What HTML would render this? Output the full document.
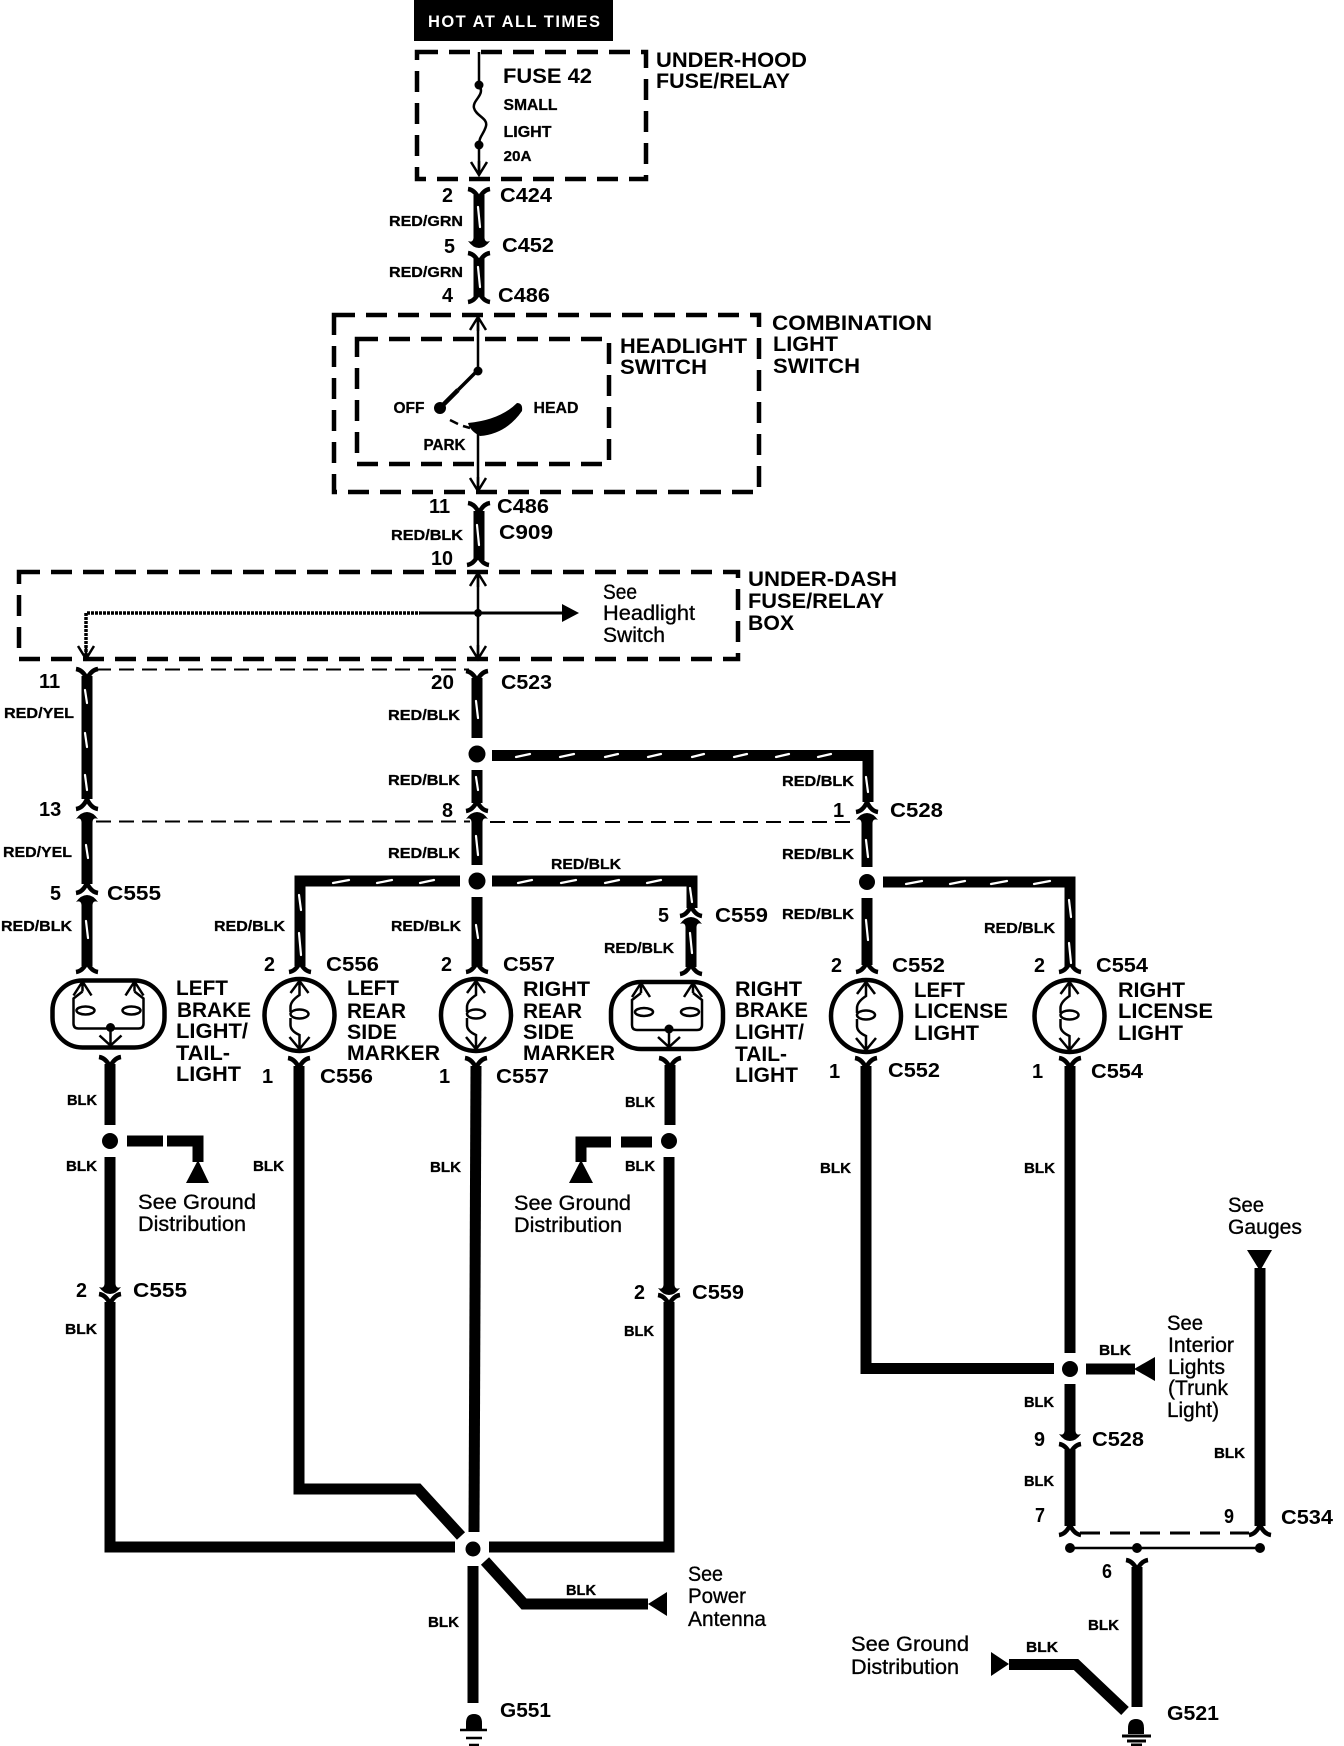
<!DOCTYPE html>
<html><head><meta charset="utf-8"><title>Wiring diagram</title>
<style>
html,body{margin:0;padding:0;background:#fff;width:1344px;height:1746px;overflow:hidden}
svg{display:block}
text{fill:#000;font-family:"Liberation Sans",sans-serif}
.a{font-weight:bold;font-size:21px}
.c{font-weight:bold;font-size:20px}
.s{font-weight:bold;font-size:16px;stroke:#000;stroke-width:.3}
.w{font-weight:bold;font-size:15px;stroke:#000;stroke-width:.3}
.r{font-size:21.5px;stroke:#000;stroke-width:.35}
.t{font-weight:bold;font-size:16.500px;fill:#fff}
</style></head><body>
<svg xmlns="http://www.w3.org/2000/svg" width="1344" height="1746" viewBox="0 0 1344 1746">
<defs>
<path id="Y" d="M-11 1Q-4 2 0 11Q4 2 11 1" fill="none" stroke="#000" stroke-width="4.5"/>
<path id="A" d="M-11 -1Q-4 -2 0 -11Q4 -2 11 -1" fill="none" stroke="#000" stroke-width="4.5"/>
<path id="U" d="M-11 7Q-6 0 0 0Q6 0 11 7Q6 5 5.5 10L-5.5 10Q-6 5 -11 7Z"/>
<path id="D" d="M-11 -7Q-6 0 0 0Q6 0 11 -7Q6 -5 5.5 -10L-5.5 -10Q-6 -5 -11 -7Z"/>
<path id="au" d="M-8 13L0 0L8 13M0 0V14" fill="none" stroke="#000" stroke-width="2.5"/>
<path id="ad" d="M-8 -13L0 0L8 -13M0 0V-14" fill="none" stroke="#000" stroke-width="2.5"/>
<g id="brake" fill="none" stroke="#000">
<rect x="-56" y="-33" width="112" height="67" rx="30" ry="30" stroke-width="4.5"/>
<g stroke-width="2.5">
<path d="M-35 -18L-26 -32L-17 -18M-26 -32V-22M35 -18L26 -32L17 -18M26 -32V-22"/>
<path d="M-26 -22L-35 -15V10Q-35 15 -30 15H30Q35 15 35 10V-15L26 -22"/>
<ellipse cx="-23" cy="-3" rx="9" ry="4"/><ellipse cx="23" cy="-3" rx="9" ry="4"/>
<path d="M2 15V32M-9 22L2 32L13 22"/>
</g>
<circle cx="2" cy="14" r="4.5" fill="#000" stroke="none"/>
</g>
<g id="mark" fill="none" stroke="#000">
<ellipse cx="0" cy="0" rx="35" ry="36" stroke-width="4.5"/>
<g stroke-width="2.5">
<path d="M-9 -22L0 -34L9 -22M0 -34V-20Q-9 -14 -9 -8V-3M-9 3V10Q-9 16 0 20V34M-10 22L0 34L10 22"/>
<ellipse cx="0" cy="-1" rx="9" ry="4.5"/>
</g>
</g>
<path id="gnd" d="M-8 12V6Q-8 -3 0 -3Q8 -3 8 6V12Z"/>
</defs>

<rect width="1344" height="1746" fill="#fff"/>

<!-- header -->
<rect x="414" y="0" width="199" height="41" fill="#000"/>
<text class="t" x="428" y="27" textLength="172" lengthAdjust="spacing">HOT AT ALL TIMES</text>

<!-- dashed boxes -->
<g fill="none" stroke="#000" stroke-width="4.5" stroke-dasharray="21 11">
<rect x="417" y="52" width="229" height="127"/>
<rect x="334" y="315" width="425" height="177"/>
<rect x="357" y="339" width="252" height="125"/>
<rect x="19" y="572" width="719" height="87"/>
</g>

<!-- thin dashed -->
<g fill="none" stroke="#000" stroke-width="2" stroke-dasharray="15 8">
<path d="M96 669.500H469"/>
<path d="M96 821.500H470"/>
<path d="M490 822H856"/>
</g>
<path d="M1080 1533H1249" fill="none" stroke="#000" stroke-width="3" stroke-dasharray="20 10"/>

<!-- inner thin wires -->
<g fill="none" stroke="#000" stroke-width="2.5">
<path d="M479 52V85M479 145V173"/>
<path d="M479 85C486 95 472 100 474 108C476 116 488 118 486 126C484 134 479 136 479 145"/>
<path d="M478 315V371M478 430V490"/>
<path d="M478 572V659"/>
<path d="M86 660V613H420" stroke-width="3.500" stroke-dasharray="3 1"/>
<path d="M420 613H562" stroke-width="3"/>
<path d="M1070 1548H1260" stroke-width="2.500"/>
</g>
<path d="M477 371L458 390" stroke="#000" stroke-width="3.500"/>
<path d="M458 390L440 408" stroke="#000" stroke-width="4.500"/>
<path d="M450 420L458 424M463 426L470 428" stroke="#000" stroke-width="2.500"/>
<path d="M468 423Q500 420 517 403Q523 403 522 411Q506 434 480 436Q470 431 468 423Z"/>
<circle cx="479" cy="85" r="4.500"/><circle cx="479" cy="145" r="4.500"/>
<circle cx="478" cy="371" r="4.500"/><circle cx="440" cy="408" r="6"/>
<circle cx="478" cy="613" r="4"/>
<path d="M562 604L579 613L562 622Z"/>
<use href="#ad" x="479" y="175"/><use href="#au" x="478" y="317"/>
<use href="#ad" x="478" y="491"/><use href="#au" x="478" y="573"/>
<use href="#ad" x="478" y="659"/><use href="#ad" x="86" y="659"/>

<!-- thick wires -->
<g fill="none" stroke="#000" stroke-width="11" stroke-linejoin="miter">
<path d="M479 195V242"/>
<path d="M479 258V297"/>
<path d="M479 511V560"/>
<path d="M87 676V799"/>
<path d="M87 820V884"/>
<path d="M87 904V966"/>
<path d="M477 678V738"/>
<path d="M477 770V803"/>
<path d="M477 820V865"/>
<path d="M477 897V966"/>
<path d="M492 755.500H868V802"/>
<path d="M867 821V867"/>
<path d="M867 898V965"/>
<path d="M460 881H300V966"/>
<path d="M492 881H692V908"/>
<path d="M691 925V967"/>
<path d="M883 882H1070V967"/>

<path d="M110 1064V1125"/>
<path d="M110 1157V1285"/>
<path d="M110 1302V1547H455"/>
<path d="M299 1066V1489H418L461 1536"/>
<path d="M476 1066L474 1532"/>
<path d="M473 1566V1703"/>
<path d="M670 1065V1125"/>
<path d="M669 1157V1285"/>
<path d="M669 1302V1547H489"/>
<path d="M485 1561L524 1604H648"/>
<path d="M866 1066V1368.500H1054"/>
<path d="M1070 1066V1353"/>
<path d="M1070 1384V1432"/>
<path d="M1070 1450V1526"/>
<path d="M1086 1369H1135"/>
<path d="M1260 1268V1526"/>
<path d="M1137 1567V1707"/>
<path d="M1009 1664.500H1076L1125 1711"/>
<path d="M127 1141H163M167 1141H198V1162"/>
<path d="M652 1142H621M611 1142H581V1162"/>
</g>

<!-- connector glyphs -->
<g>
<use href="#Y" x="479" y="188"/><use href="#D" x="479" y="248"/>
<use href="#Y" x="479" y="252"/><use href="#A" x="479" y="303"/>
<use href="#Y" x="479" y="502"/><use href="#A" x="478" y="566"/>
<use href="#Y" x="87" y="668"/><use href="#A" x="87" y="810"/><use href="#U" x="87" y="812"/>
<use href="#A" x="87" y="894"/><use href="#U" x="87" y="895"/><use href="#A" x="87" y="973"/>
<use href="#Y" x="477" y="670"/><use href="#A" x="477" y="812"/><use href="#U" x="477" y="812"/><use href="#A" x="477" y="973"/>
<use href="#A" x="867" y="813"/><use href="#U" x="867" y="813"/><use href="#A" x="867" y="973"/>
<use href="#A" x="691" y="917"/><use href="#U" x="691" y="917"/><use href="#A" x="691" y="975"/>
<use href="#A" x="300" y="973"/><use href="#A" x="1070" y="973"/>
<use href="#Y" x="110" y="1056"/><use href="#Y" x="299" y="1057"/><use href="#Y" x="476" y="1057"/>
<use href="#Y" x="670" y="1057"/><use href="#Y" x="866" y="1057"/><use href="#Y" x="1070" y="1057"/>
<use href="#D" x="110" y="1294"/><use href="#Y" x="110" y="1293"/>
<use href="#D" x="669" y="1295"/><use href="#Y" x="669" y="1294"/>
<use href="#D" x="1070" y="1441"/><use href="#Y" x="1070" y="1443"/>
<use href="#A" x="1070" y="1536"/><use href="#A" x="1260" y="1536"/>
<use href="#Y" x="1137" y="1559"/>
</g>

<!-- lamps -->
<use href="#brake" x="108.500" y="1013.500"/>
<use href="#brake" x="667" y="1015"/>
<use href="#mark" x="299.500" y="1015"/>
<use href="#mark" x="476" y="1015"/>
<use href="#mark" x="866" y="1016"/>
<use href="#mark" x="1069.500" y="1016"/>

<!-- junction dots -->
<circle cx="477" cy="754" r="8.500"/><circle cx="477" cy="881" r="8.500"/>
<circle cx="867" cy="882" r="8"/><circle cx="110" cy="1141" r="8"/>
<circle cx="669" cy="1141" r="8"/><circle cx="1070" cy="1369" r="8"/>
<circle cx="473" cy="1549" r="13" fill="#fff"/><circle cx="473" cy="1549" r="7.500"/>
<circle cx="1070" cy="1548" r="5"/><circle cx="1137" cy="1548" r="5"/><circle cx="1260" cy="1548" r="5"/>

<!-- triangles -->
<path d="M198 1160L209 1183H186Z"/>
<path d="M581 1160L593 1183H569Z"/>
<path d="M1247 1250H1272L1260 1271Z"/>
<path d="M1134 1369L1155 1357V1381Z"/>
<path d="M648 1604L667 1592V1616Z"/>
<path d="M1009 1664L991 1652V1676Z"/>

<!-- grounds -->
<use href="#gnd" x="474" y="1717"/>
<path d="M460 1730H487M466 1738H482M469 1745H479" stroke="#000" stroke-width="2.500"/>
<use href="#gnd" x="1136" y="1722"/>
<path d="M1122 1736H1151M1127 1741H1146M1131 1745H1142" stroke="#000" stroke-width="3"/>

<!-- white stripes -->
<g fill="none" stroke="#fff" stroke-width="2.200" stroke-linecap="round">
<path d="M478 207L480 227M478 267L480 287M477 525L479 545"/>
<path d="M85 690L87 703M85 733L87 747M85 775L87 790M86 845L88 858M86 921L88 938"/>
<path d="M476 701L478 718M476 777L478 790M476 836L478 855M476 925L478 938"/>
<path d="M299 895L301 910M299 933L301 955"/>
<path d="M866 777L868 792M866 840L868 857M866 920L868 940"/>
<path d="M690 888L692 902M690 933L692 953"/>
<path d="M1069 900L1071 917M1069 943L1071 963"/>
<path d="M516 757L530 754M560 757L574 754M605 757L618 754M648 757L661 754M692 757L704 754M734 757L747 754M776 757L789 754M818 757L831 754"/>
<path d="M333 883L349 880M377 883L392 880M420 883L434 880"/>
<path d="M518 883L532 880M561 883L576 880M605 883L619 880M647 883L661 880"/>
<path d="M906 884L922 881M950 884L965 881M991 884L1007 881M1034 884L1050 881"/>
</g>

<!-- labels: big bold -->
<g transform="translate(-1 0)">
<text class="a" x="657" y="67" textLength="151" lengthAdjust="spacingAndGlyphs">UNDER-HOOD</text>
<text class="a" x="657" y="88" textLength="134" lengthAdjust="spacingAndGlyphs">FUSE/RELAY</text>
<text class="a" x="504" y="83" textLength="89" lengthAdjust="spacingAndGlyphs">FUSE 42</text>
<text class="a" x="621" y="353" textLength="127" lengthAdjust="spacingAndGlyphs">HEADLIGHT</text>
<text class="a" x="621" y="374" textLength="87" lengthAdjust="spacingAndGlyphs">SWITCH</text>
<text class="a" x="773" y="330" textLength="160" lengthAdjust="spacingAndGlyphs">COMBINATION</text>
<text class="a" x="774" y="351" textLength="65" lengthAdjust="spacingAndGlyphs">LIGHT</text>
<text class="a" x="774" y="373" textLength="87" lengthAdjust="spacingAndGlyphs">SWITCH</text>
<text class="a" x="749" y="586" textLength="149" lengthAdjust="spacingAndGlyphs">UNDER-DASH</text>
<text class="a" x="749" y="608" textLength="136" lengthAdjust="spacingAndGlyphs">FUSE/RELAY</text>
<text class="a" x="749" y="630" textLength="46" lengthAdjust="spacingAndGlyphs">BOX</text>

<text class="a" x="177" y="995" textLength="52" lengthAdjust="spacingAndGlyphs">LEFT</text>
<text class="a" x="178" y="1017" textLength="74" lengthAdjust="spacingAndGlyphs">BRAKE</text>
<text class="a" x="177" y="1038" textLength="72" lengthAdjust="spacingAndGlyphs">LIGHT/</text>
<text class="a" x="177" y="1060" textLength="54" lengthAdjust="spacingAndGlyphs">TAIL-</text>
<text class="a" x="177" y="1081" textLength="65" lengthAdjust="spacingAndGlyphs">LIGHT</text>

<text class="a" x="348" y="995" textLength="52" lengthAdjust="spacingAndGlyphs">LEFT</text>
<text class="a" x="348" y="1018" textLength="59" lengthAdjust="spacingAndGlyphs">REAR</text>
<text class="a" x="348" y="1039" textLength="50" lengthAdjust="spacingAndGlyphs">SIDE</text>
<text class="a" x="348" y="1060" textLength="93" lengthAdjust="spacingAndGlyphs">MARKER</text>

<text class="a" x="524" y="996" textLength="67" lengthAdjust="spacingAndGlyphs">RIGHT</text>
<text class="a" x="524" y="1018" textLength="59" lengthAdjust="spacingAndGlyphs">REAR</text>
<text class="a" x="524" y="1039" textLength="51" lengthAdjust="spacingAndGlyphs">SIDE</text>
<text class="a" x="524" y="1060" textLength="92" lengthAdjust="spacingAndGlyphs">MARKER</text>

<text class="a" x="736" y="996" textLength="67" lengthAdjust="spacingAndGlyphs">RIGHT</text>
<text class="a" x="736" y="1017" textLength="73" lengthAdjust="spacingAndGlyphs">BRAKE</text>
<text class="a" x="736" y="1039" textLength="69" lengthAdjust="spacingAndGlyphs">LIGHT/</text>
<text class="a" x="736" y="1061" textLength="52" lengthAdjust="spacingAndGlyphs">TAIL-</text>
<text class="a" x="736" y="1082" textLength="63" lengthAdjust="spacingAndGlyphs">LIGHT</text>

<text class="a" x="915" y="997" textLength="51" lengthAdjust="spacingAndGlyphs">LEFT</text>
<text class="a" x="915" y="1018" textLength="94" lengthAdjust="spacingAndGlyphs">LICENSE</text>
<text class="a" x="915" y="1040" textLength="65" lengthAdjust="spacingAndGlyphs">LIGHT</text>

<text class="a" x="1119" y="997" textLength="67" lengthAdjust="spacingAndGlyphs">RIGHT</text>
<text class="a" x="1119" y="1018" textLength="95" lengthAdjust="spacingAndGlyphs">LICENSE</text>
<text class="a" x="1119" y="1040" textLength="65" lengthAdjust="spacingAndGlyphs">LIGHT</text>
</g>

<!-- small bold -->
<g transform="translate(-.5 0)">
<text class="s" x="504" y="110" textLength="54" lengthAdjust="spacingAndGlyphs">SMALL</text>
<text class="s" x="504" y="137" textLength="48" lengthAdjust="spacingAndGlyphs">LIGHT</text>
<text class="w" x="504" y="161" textLength="28" lengthAdjust="spacingAndGlyphs">20A</text>
<text class="s" x="394" y="413" textLength="31" lengthAdjust="spacingAndGlyphs">OFF</text>
<text class="s" x="534" y="413" textLength="45" lengthAdjust="spacingAndGlyphs">HEAD</text>
<text class="s" x="424" y="450" textLength="42" lengthAdjust="spacingAndGlyphs">PARK</text>
</g>

<!-- connector labels -->
<g>
<text class="c" x="442" y="202" textLength="11" lengthAdjust="spacingAndGlyphs">2</text>
<text class="c" x="500" y="202" textLength="52" lengthAdjust="spacingAndGlyphs">C424</text>
<text class="c" x="444" y="253" textLength="11" lengthAdjust="spacingAndGlyphs">5</text>
<text class="c" x="502" y="252" textLength="52" lengthAdjust="spacingAndGlyphs">C452</text>
<text class="c" x="442" y="302" textLength="11" lengthAdjust="spacingAndGlyphs">4</text>
<text class="c" x="498" y="302" textLength="52" lengthAdjust="spacingAndGlyphs">C486</text>
<text class="c" x="429" y="513">11</text>
<text class="c" x="497" y="513" textLength="52" lengthAdjust="spacingAndGlyphs">C486</text>
<text class="c" x="499" y="539" textLength="54" lengthAdjust="spacingAndGlyphs">C909</text>
<text class="c" x="431" y="565" textLength="22" lengthAdjust="spacingAndGlyphs">10</text>
<text class="c" x="39" y="688">11</text>
<text class="c" x="431" y="689" textLength="23" lengthAdjust="spacingAndGlyphs">20</text>
<text class="c" x="501" y="689" textLength="51" lengthAdjust="spacingAndGlyphs">C523</text>
<text class="c" x="39" y="816">13</text>
<text class="c" x="442" y="817" textLength="11" lengthAdjust="spacingAndGlyphs">8</text>
<text class="c" x="833" y="817">1</text>
<text class="c" x="890" y="817" textLength="53" lengthAdjust="spacingAndGlyphs">C528</text>
<text class="c" x="50" y="900" textLength="11" lengthAdjust="spacingAndGlyphs">5</text>
<text class="c" x="107" y="900" textLength="54" lengthAdjust="spacingAndGlyphs">C555</text>
<text class="c" x="658" y="922" textLength="11" lengthAdjust="spacingAndGlyphs">5</text>
<text class="c" x="715" y="922" textLength="53" lengthAdjust="spacingAndGlyphs">C559</text>
<text class="c" x="264" y="971" textLength="11" lengthAdjust="spacingAndGlyphs">2</text>
<text class="c" x="326" y="971" textLength="53" lengthAdjust="spacingAndGlyphs">C556</text>
<text class="c" x="441" y="971" textLength="11" lengthAdjust="spacingAndGlyphs">2</text>
<text class="c" x="503" y="971" textLength="52" lengthAdjust="spacingAndGlyphs">C557</text>
<text class="c" x="831" y="972" textLength="11" lengthAdjust="spacingAndGlyphs">2</text>
<text class="c" x="892" y="972" textLength="53" lengthAdjust="spacingAndGlyphs">C552</text>
<text class="c" x="1034" y="972" textLength="11" lengthAdjust="spacingAndGlyphs">2</text>
<text class="c" x="1096" y="972" textLength="52" lengthAdjust="spacingAndGlyphs">C554</text>
<text class="c" x="262" y="1083">1</text>
<text class="c" x="320" y="1083" textLength="53" lengthAdjust="spacingAndGlyphs">C556</text>
<text class="c" x="439" y="1083">1</text>
<text class="c" x="496" y="1083" textLength="53" lengthAdjust="spacingAndGlyphs">C557</text>
<text class="c" x="829" y="1078">1</text>
<text class="c" x="888" y="1077" textLength="52" lengthAdjust="spacingAndGlyphs">C552</text>
<text class="c" x="1032" y="1078">1</text>
<text class="c" x="1091" y="1078" textLength="52" lengthAdjust="spacingAndGlyphs">C554</text>
<text class="c" x="76" y="1297" textLength="11" lengthAdjust="spacingAndGlyphs">2</text>
<text class="c" x="133" y="1297" textLength="54" lengthAdjust="spacingAndGlyphs">C555</text>
<text class="c" x="634" y="1299" textLength="11" lengthAdjust="spacingAndGlyphs">2</text>
<text class="c" x="692" y="1299" textLength="52" lengthAdjust="spacingAndGlyphs">C559</text>
<text class="c" x="1034" y="1446" textLength="11" lengthAdjust="spacingAndGlyphs">9</text>
<text class="c" x="1092" y="1446" textLength="52" lengthAdjust="spacingAndGlyphs">C528</text>
<text class="c" x="1035" y="1522" textLength="10" lengthAdjust="spacingAndGlyphs">7</text>
<text class="c" x="1224" y="1523" textLength="10" lengthAdjust="spacingAndGlyphs">9</text>
<text class="c" x="1281" y="1524" textLength="52" lengthAdjust="spacingAndGlyphs">C534</text>
<text class="c" x="1102" y="1578" textLength="10" lengthAdjust="spacingAndGlyphs">6</text>
<text class="c" x="500" y="1717" textLength="51" lengthAdjust="spacingAndGlyphs">G551</text>
<text class="c" x="1167" y="1720" textLength="52" lengthAdjust="spacingAndGlyphs">G521</text>
</g>

<!-- wire colour labels -->
<g>
<text class="w" x="389" y="226" textLength="74" lengthAdjust="spacingAndGlyphs">RED/GRN</text>
<text class="w" x="389" y="277" textLength="74" lengthAdjust="spacingAndGlyphs">RED/GRN</text>
<text class="w" x="391" y="540" textLength="72" lengthAdjust="spacingAndGlyphs">RED/BLK</text>
<text class="w" x="4" y="718" textLength="70" lengthAdjust="spacingAndGlyphs">RED/YEL</text>
<text class="w" x="388" y="720" textLength="72" lengthAdjust="spacingAndGlyphs">RED/BLK</text>
<text class="w" x="388" y="785" textLength="72" lengthAdjust="spacingAndGlyphs">RED/BLK</text>
<text class="w" x="782" y="786" textLength="72" lengthAdjust="spacingAndGlyphs">RED/BLK</text>
<text class="w" x="3" y="857" textLength="69" lengthAdjust="spacingAndGlyphs">RED/YEL</text>
<text class="w" x="388" y="858" textLength="72" lengthAdjust="spacingAndGlyphs">RED/BLK</text>
<text class="w" x="782" y="859" textLength="72" lengthAdjust="spacingAndGlyphs">RED/BLK</text>
<text class="w" x="551" y="869" textLength="70" lengthAdjust="spacingAndGlyphs">RED/BLK</text>
<text class="w" x="782" y="919" textLength="72" lengthAdjust="spacingAndGlyphs">RED/BLK</text>
<text class="w" x="1" y="931" textLength="71" lengthAdjust="spacingAndGlyphs">RED/BLK</text>
<text class="w" x="214" y="931" textLength="71" lengthAdjust="spacingAndGlyphs">RED/BLK</text>
<text class="w" x="391" y="931" textLength="70" lengthAdjust="spacingAndGlyphs">RED/BLK</text>
<text class="w" x="984" y="933" textLength="71" lengthAdjust="spacingAndGlyphs">RED/BLK</text>
<text class="w" x="604" y="953" textLength="70" lengthAdjust="spacingAndGlyphs">RED/BLK</text>

<text class="w" x="67" y="1105" textLength="30" lengthAdjust="spacingAndGlyphs">BLK</text>
<text class="w" x="625" y="1107" textLength="30" lengthAdjust="spacingAndGlyphs">BLK</text>
<text class="w" x="66" y="1171" textLength="31" lengthAdjust="spacingAndGlyphs">BLK</text>
<text class="w" x="253" y="1171" textLength="31" lengthAdjust="spacingAndGlyphs">BLK</text>
<text class="w" x="430" y="1172" textLength="31" lengthAdjust="spacingAndGlyphs">BLK</text>
<text class="w" x="625" y="1171" textLength="30" lengthAdjust="spacingAndGlyphs">BLK</text>
<text class="w" x="820" y="1173" textLength="31" lengthAdjust="spacingAndGlyphs">BLK</text>
<text class="w" x="1024" y="1173" textLength="31" lengthAdjust="spacingAndGlyphs">BLK</text>
<text class="w" x="65" y="1334" textLength="32" lengthAdjust="spacingAndGlyphs">BLK</text>
<text class="w" x="624" y="1336" textLength="30" lengthAdjust="spacingAndGlyphs">BLK</text>
<text class="w" x="1099" y="1355" textLength="32" lengthAdjust="spacingAndGlyphs">BLK</text>
<text class="w" x="1024" y="1407" textLength="30" lengthAdjust="spacingAndGlyphs">BLK</text>
<text class="w" x="1214" y="1458" textLength="31" lengthAdjust="spacingAndGlyphs">BLK</text>
<text class="w" x="1024" y="1486" textLength="30" lengthAdjust="spacingAndGlyphs">BLK</text>
<text class="w" x="566" y="1595" textLength="30" lengthAdjust="spacingAndGlyphs">BLK</text>
<text class="w" x="428" y="1627" textLength="31" lengthAdjust="spacingAndGlyphs">BLK</text>
<text class="w" x="1088" y="1630" textLength="31" lengthAdjust="spacingAndGlyphs">BLK</text>
<text class="w" x="1026" y="1652" textLength="32" lengthAdjust="spacingAndGlyphs">BLK</text>
</g>

<!-- regular labels -->
<g transform="translate(-1 0)">
<text class="r" x="604" y="599" textLength="34" lengthAdjust="spacingAndGlyphs">See</text>
<text class="r" x="604" y="620" textLength="92" lengthAdjust="spacingAndGlyphs">Headlight</text>
<text class="r" x="604" y="642" textLength="62" lengthAdjust="spacingAndGlyphs">Switch</text>
<text class="r" x="139" y="1209" textLength="118" lengthAdjust="spacingAndGlyphs">See Ground</text>
<text class="r" x="139" y="1231" textLength="108" lengthAdjust="spacingAndGlyphs">Distribution</text>
<text class="r" x="515" y="1210" textLength="117" lengthAdjust="spacingAndGlyphs">See Ground</text>
<text class="r" x="515" y="1232" textLength="108" lengthAdjust="spacingAndGlyphs">Distribution</text>
<text class="r" x="1229" y="1212" textLength="36" lengthAdjust="spacingAndGlyphs">See</text>
<text class="r" x="1229" y="1234" textLength="74" lengthAdjust="spacingAndGlyphs">Gauges</text>
<text class="r" x="1168" y="1330" textLength="36" lengthAdjust="spacingAndGlyphs">See</text>
<text class="r" x="1169" y="1352" textLength="66" lengthAdjust="spacingAndGlyphs">Interior</text>
<text class="r" x="1169" y="1374" textLength="57" lengthAdjust="spacingAndGlyphs">Lights</text>
<text class="r" x="1169" y="1395" textLength="60" lengthAdjust="spacingAndGlyphs">(Trunk</text>
<text class="r" x="1168" y="1417" textLength="52" lengthAdjust="spacingAndGlyphs">Light)</text>
<text class="r" x="689" y="1581" textLength="35" lengthAdjust="spacingAndGlyphs">See</text>
<text class="r" x="689" y="1603" textLength="58" lengthAdjust="spacingAndGlyphs">Power</text>
<text class="r" x="689" y="1626" textLength="78" lengthAdjust="spacingAndGlyphs">Antenna</text>
<text class="r" x="852" y="1651" textLength="118" lengthAdjust="spacingAndGlyphs">See Ground</text>
<text class="r" x="852" y="1674" textLength="108" lengthAdjust="spacingAndGlyphs">Distribution</text>
</g>
</svg>
</body></html>
